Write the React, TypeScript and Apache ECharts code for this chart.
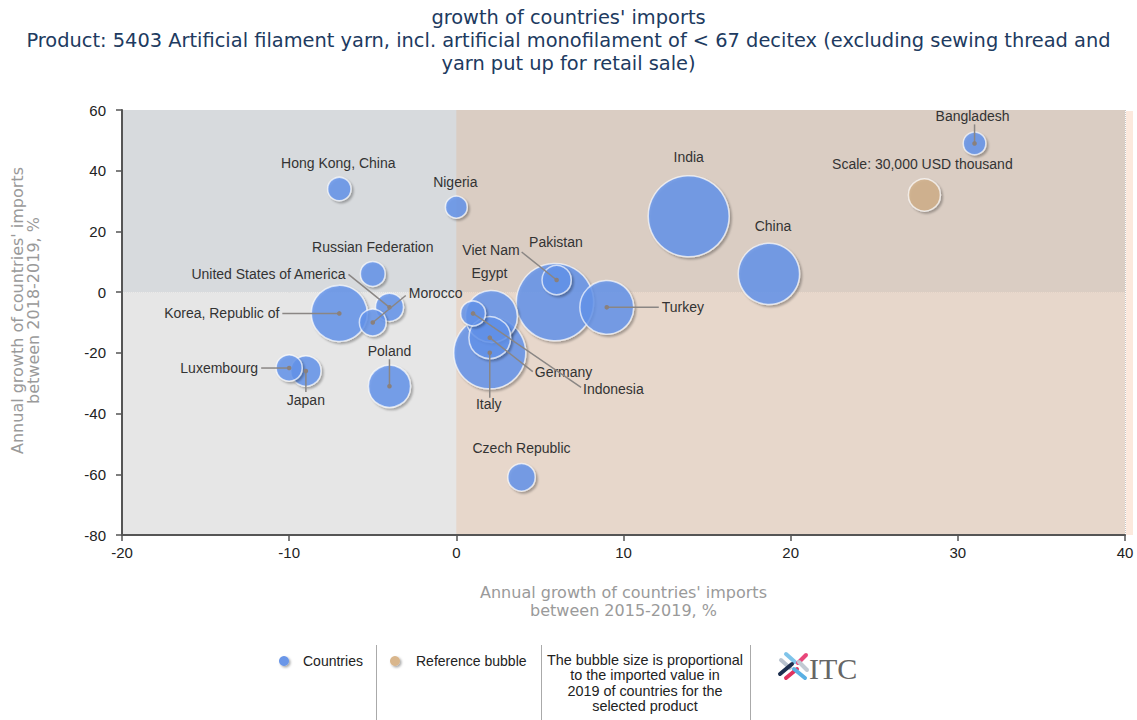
import React, { useEffect, useRef } from "react";
import * as echarts from "echarts";

// ---- Data ----
const countries = [
  "India", "Pakistan", "Italy", "China", "Korea, Republic of", "Turkey", "Egypt",
  "Germany", "Poland", "Japan", "Viet Nam", "United States of America", "Czech Republic",
  "Morocco", "Russian Federation", "Indonesia", "Luxembourg", "Hong Kong, China",
  "Nigeria", "Bangladesh",
];
// Annual growth of imports 2015-2019, %
const growth2015_2019 = [13.9, 5.9, 2.0, 18.7, -7.0, 9.0, 2.1, 2.0, -4.0, -9.0, 6.0, -4.0, 3.9, -5.0, -5.0, 1.0, -10.0, -7.0, 0.0, 31.0];
// Annual growth of imports 2018-2019, %
const growth2018_2019 = [25, -3.3, -20, 6, -7, -5, -8, -15, -31, -26, 4, -5, -61, -10, 6, -7, -25, 34, 28, 49];
// Imported value in 2019, USD thousand
const importValue2019 = [192000, 175000, 152000, 110000, 92000, 85000, 79000, 51000, 52000, 27000, 25000, 23000, 22000, 21000, 18000, 18000, 20000, 16000, 14000, 15000];

const refName = "Scale: 30,000 USD thousand";
const refX = [28];
const refY = [32];
const refValue = [30000];

const xTicks = { min: -20, max: 40, interval: 10 };
const yTicks = { min: -80, max: 60, interval: 20 };

const titleLines = [
  "growth of countries' imports",
  "Product: 5403 Artificial filament yarn, incl. artificial monofilament of < 67 decitex (excluding sewing thread and",
  "yarn put up for retail sale)",
];
const xAxisName = "Annual growth of countries' imports\nbetween 2015-2019, %";
const yAxisName = "Annual growth of countries' imports\nbetween 2018-2019, %";
const legendNote = "The bubble size is proportional\nto the imported value in\n2019 of countries for the\nselected product";

// ---- Layout (label offsets in px relative to bubble centre) ----
type LL = { tx: number; ty: number; align: string; lx?: number; ly?: number };
const LABEL_LAYOUT: Record<string, LL> = {
  "Bangladesh": { tx: -2, ty: -27, align: "center", lx: 0, ly: -19 },
  "India": { tx: 0, ty: -59, align: "center" },
  "China": { tx: 4, ty: -48, align: "center" },
  "Pakistan": { tx: 1, ty: -60, align: "center" },
  "Viet Nam": { tx: -37, ty: -30, align: "right", lx: -35, ly: -28 },
  "Egypt": { tx: -2, ty: -43, align: "center" },
  "Turkey": { tx: 55, ty: 0, align: "left", lx: 52, ly: 0 },
  "Italy": { tx: -1, ty: 51, align: "center", lx: 0, ly: 45 },
  "Germany": { tx: 45, ty: 34, align: "left", lx: 43, ly: 34 },
  "Indonesia": { tx: 110, ty: 76, align: "left", lx: 108, ly: 74 },
  "Czech Republic": { tx: 0, ty: -29, align: "center" },
  "Hong Kong, China": { tx: -1, ty: -26, align: "center" },
  "Nigeria": { tx: -1, ty: -25, align: "center" },
  "Russian Federation": { tx: 0, ty: -27, align: "center" },
  "United States of America": { tx: -44, ty: -33, align: "right", lx: -41, ly: -33 },
  "Morocco": { tx: 36, ty: -30, align: "left", lx: 33, ly: -27 },
  "Korea, Republic of": { tx: -60, ty: 0, align: "right", lx: -57, ly: 0 },
  "Luxembourg": { tx: -31, ty: 0, align: "right", lx: -28, ly: 0 },
  "Japan": { tx: 0, ty: 29, align: "center", lx: 0, ly: 21 },
  "Poland": { tx: 0, ty: -35, align: "center", lx: 0, ly: -27 },
  [refName]: { tx: -2, ty: -31, align: "center" },
};

const REF_RADIUS = 16; // px radius of the 30,000 reference bubble
const LABEL_FONT = '14px "Liberation Sans", Arial, sans-serif';

export default function App() {
  const ref = useRef<HTMLDivElement>(null);

  useEffect(() => {
    document.body.style.margin = "0";
    const chart = echarts.init(ref.current!, null, { renderer: "svg" });

    const countryData = countries
      .map((n, i) => [growth2015_2019[i], growth2018_2019[i], importValue2019[i], n])
      .sort((a: any, b: any) => b[2] - a[2]);
    const refData = refX.map((x, i) => [x, refY[i], refValue[i], refName]);
    const labelData = [...countryData, ...refData];

    const sizeFn = (d: any) => 2 * REF_RADIUS * Math.sqrt(d[2] / refValue[0]);

    const bubbleStyle = (color: string) => ({
      color,
      borderColor: "rgba(255,255,255,0.85)",
      borderWidth: 1.5,
      shadowColor: "rgba(0,0,0,0.35)",
      shadowBlur: 2,
      shadowOffsetX: 2,
      shadowOffsetY: 2,
    });

    const axisCommon = {
      type: "value",
      z: 1,
      axisLine: { show: true, onZero: false, lineStyle: { color: "#555", width: 2 } },
      axisTick: { show: true, length: 6, lineStyle: { color: "#555", width: 1.5 } },
      axisLabel: { color: "#222", fontSize: 15, fontFamily: '"Liberation Sans", Arial, sans-serif' },
      splitLine: { show: true, lineStyle: { color: "#c6c6c6", type: "dotted", width: 1 } },
      nameLocation: "middle",
      nameTextStyle: { color: "#9a9a9a", fontSize: 16, lineHeight: 18, fontFamily: '"DejaVu Sans", sans-serif' },
    };

    const option: any = {
      animation: false,
      title: {
        text: titleLines.join("\n"),
        left: "center",
        top: 1,
        textStyle: {
          color: "#203a60",
          fontSize: 19.4,
          fontWeight: "normal",
          lineHeight: 23,
          fontFamily: '"DejaVu Sans", sans-serif',
        },
      },
      grid: { left: 122, right: 12, top: 110, bottom: 185, containLabel: false, outerBoundsMode: "none" },
      xAxis: {
        ...axisCommon,
        min: xTicks.min, max: xTicks.max, interval: xTicks.interval,
        name: xAxisName,
        nameGap: 48,
        axisLabel: { ...axisCommon.axisLabel, margin: 10 },
      },
      yAxis: {
        ...axisCommon,
        min: yTicks.min, max: yTicks.max, interval: yTicks.interval,
        name: yAxisName,
        nameGap: 81,
        nameRotate: 90,
        nameTextStyle: { ...axisCommon.nameTextStyle, lineHeight: 16, padding: [0, 0, 0, 24] },
        axisLabel: { ...axisCommon.axisLabel, margin: 16 },
      },
      series: [
        {
          type: "scatter",
          z: 0,
          silent: true,
          data: [],
          markArea: {
            silent: true,
            data: [
              [{ xAxis: xTicks.min, yAxis: 0, itemStyle: { color: "#d7dadd" } }, { xAxis: xTicks.max, yAxis: yTicks.max }],
              [{ xAxis: xTicks.min, yAxis: yTicks.min, itemStyle: { color: "#e6e6e6" } }, { xAxis: xTicks.max, yAxis: 0 }],
            ],
          },
        },
        {
          name: "Countries",
          type: "scatter",
          z: 2,
          data: countryData,
          symbolSize: sizeFn,
          itemStyle: bubbleStyle("#6495ed"),
        },
        {
          name: "Reference bubble",
          type: "scatter",
          z: 2,
          data: refData,
          symbolSize: sizeFn,
          itemStyle: bubbleStyle("#d2b08a"),
        },
        {
          type: "scatter",
          z: 3,
          silent: true,
          data: [],
          markArea: {
            silent: true,
            itemStyle: { color: "rgba(234,137,65,0.16)" },
            data: [[{ xAxis: 0, yAxis: yTicks.min }, { xAxis: xTicks.max, yAxis: yTicks.max }]],
          },
        },
        {
          type: "custom",
          z: 4,
          silent: true,
          clip: false,
          data: labelData.map((d) => [d[0], d[1]]),
          renderItem: (params: any, api: any) => {
            const p = api.coord([api.value(0), api.value(1)]);
            const name = labelData[params.dataIndex][3] as string;
            const l = LABEL_LAYOUT[name] || { tx: 0, ty: -25, align: "center" };
            const children: any[] = [];
            if (l.lx !== undefined) {
              children.push({
                type: "line",
                shape: { x1: p[0], y1: p[1], x2: p[0] + l.lx, y2: p[1] + (l.ly || 0) },
                style: { stroke: "#8a8684", lineWidth: 1.5 },
              });
              children.push({
                type: "circle",
                shape: { cx: p[0], cy: p[1], r: 2.3 },
                style: { fill: "#8a807c" },
              });
            }
            children.push({
              type: "text",
              style: {
                text: name,
                x: p[0] + l.tx,
                y: p[1] + l.ty,
                align: l.align,
                textAlign: l.align,
                verticalAlign: "middle",
                textVerticalAlign: "middle",
                font: LABEL_FONT,
                fill: "#333",
              },
            });
            return { type: "group", children };
          },
        },
      ],
      graphic: [
        { type: "rect", shape: { x: 1126, y: 111, width: 7, height: 424 }, style: { fill: "#fce9dd" }, silent: true },
        // legend
        {
          type: "circle", shape: { cx: 284, cy: 661, r: 5 },
          style: { fill: "#6a96e8", shadowColor: "rgba(0,0,0,0.35)", shadowBlur: 2, shadowOffsetX: 1.5, shadowOffsetY: 1.5 },
        },
        {
          type: "text",
          style: { text: "Countries", x: 303, y: 661, font: '14px "Liberation Sans", Arial, sans-serif', fill: "#222", textVerticalAlign: "middle", verticalAlign: "middle" },
        },
        { type: "line", shape: { x1: 376.5, y1: 645, x2: 376.5, y2: 720 }, style: { stroke: "#aaa", lineWidth: 1 } },
        {
          type: "circle", shape: { cx: 395, cy: 661, r: 5 },
          style: { fill: "#d9b68c", shadowColor: "rgba(0,0,0,0.35)", shadowBlur: 2, shadowOffsetX: 1.5, shadowOffsetY: 1.5 },
        },
        {
          type: "text",
          style: { text: "Reference bubble", x: 416, y: 661, font: '14px "Liberation Sans", Arial, sans-serif', fill: "#222", textVerticalAlign: "middle", verticalAlign: "middle" },
        },
        { type: "line", shape: { x1: 541.5, y1: 645, x2: 541.5, y2: 720 }, style: { stroke: "#aaa", lineWidth: 1 } },
        {
          type: "text",
          style: {
            text: legendNote, x: 645, y: 652, font: '14.4px "Liberation Sans", Arial, sans-serif', fill: "#222",
            textAlign: "center", align: "center", lineHeight: 15.4, textVerticalAlign: "top", verticalAlign: "top",
          },
        },
        { type: "line", shape: { x1: 750.5, y1: 645, x2: 750.5, y2: 720 }, style: { stroke: "#aaa", lineWidth: 1 } },
        // ITC logo
        { type: "line", shape: { x1: 786, y1: 654, x2: 795, y2: 662 }, style: { stroke: "#7fc4ea", lineWidth: 4, lineCap: "round" } },
        { type: "line", shape: { x1: 781, y1: 660, x2: 790, y2: 668 }, style: { stroke: "#b9c3cf", lineWidth: 4, lineCap: "round" } },
        { type: "line", shape: { x1: 806, y1: 655, x2: 798, y2: 663 }, style: { stroke: "#e8467a", lineWidth: 4, lineCap: "round" } },
        { type: "line", shape: { x1: 799, y1: 662, x2: 807, y2: 670 }, style: { stroke: "#c2cad3", lineWidth: 4, lineCap: "round" } },
        { type: "line", shape: { x1: 780, y1: 674, x2: 792, y2: 664 }, style: { stroke: "#1d2f4f", lineWidth: 4, lineCap: "round" } },
        { type: "line", shape: { x1: 786, y1: 678, x2: 797, y2: 669 }, style: { stroke: "#e0335e", lineWidth: 4, lineCap: "round" } },
        { type: "line", shape: { x1: 794, y1: 669, x2: 805, y2: 678 }, style: { stroke: "#5ab0e4", lineWidth: 4, lineCap: "round" } },
        {
          type: "text",
          style: { text: "ITC", x: 809, y: 668, font: '30px "Liberation Serif", "DejaVu Serif", serif', fill: "#666", textVerticalAlign: "middle", verticalAlign: "middle" },
        },
      ],
    };

    chart.setOption(option);
    return () => chart.dispose();
  }, []);

  return <div ref={ref} style={{ width: 1137, height: 720 }} />;
}
